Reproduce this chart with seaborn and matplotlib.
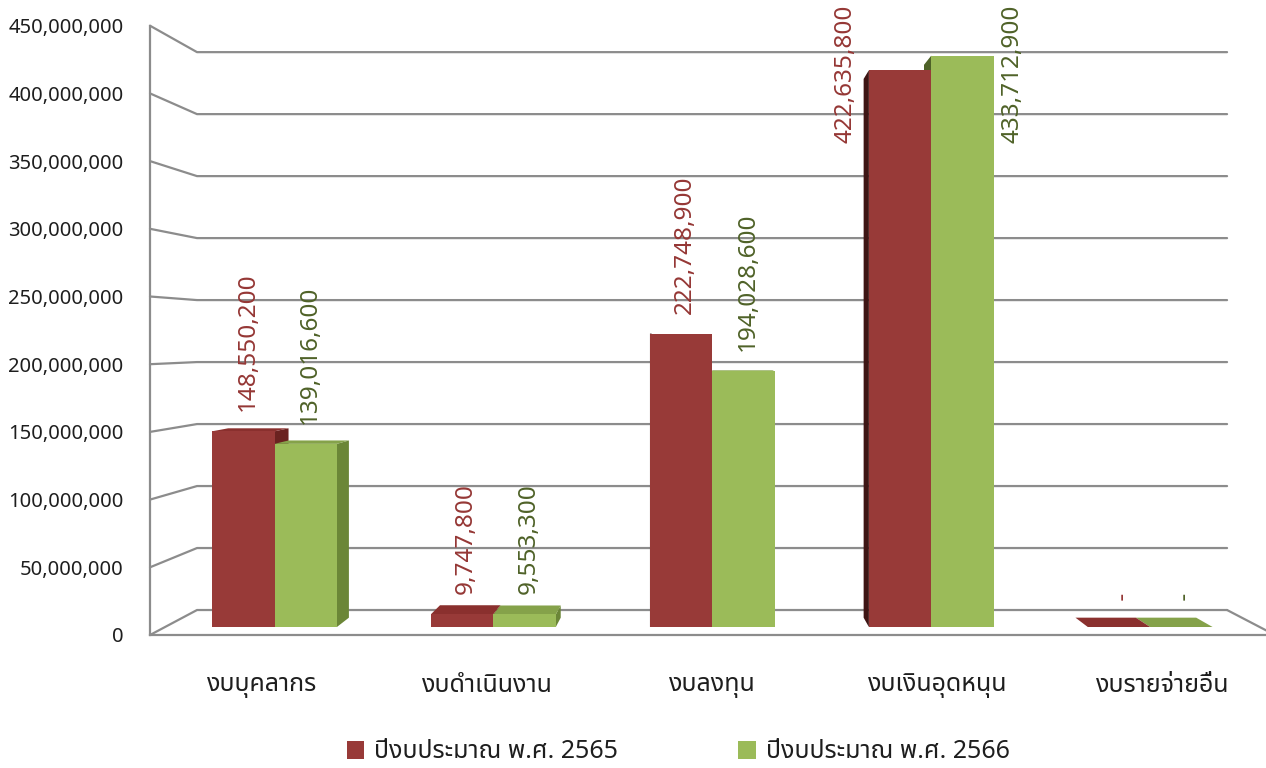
import numpy as np
import pandas as pd
import seaborn as sns
import matplotlib
matplotlib.use("Agg")
import matplotlib.pyplot as plt
from matplotlib import transforms as mtransforms
from matplotlib.patches import Polygon, Patch

# ---- data -------------------------------------------------------------
categories = ["งบบุคลากร", "งบดำเนินงาน", "งบลงทุน", "งบเงินอุดหนุน", "งบรายจ่ายอื่น"]
series_names = ["ปีงบประมาณ พ.ศ. 2565", "ปีงบประมาณ พ.ศ. 2566"]
budget_2565 = [148550200, 9747800, 222748900, 422635800, 0]
budget_2566 = [139016600, 9553300, 194028600, 433712900, 0]
y_ticks = [0, 50000000, 100000000, 150000000, 200000000,
           250000000, 300000000, 350000000, 400000000, 450000000]

# ---- style ------------------------------------------------------------
sns.set_style("white")
plt.rcParams["font.family"] = ["Noto Sans Thai", "DejaVu Sans"]

RED, GREEN = "#983a38", "#9bbb59"
RED_LABEL, GREEN_LABEL = "#953735", "#4f6228"
SIDE = {True: {"right": "#6a2220", "left": "#3e1514", "top": "#8a302e"},
        False: {"right": "#6b8637", "left": "#4e6228", "top": "#85a24a"}}
GRID = "#8c8c8c"
TEXT = "#1e1e1e"

# ---- pseudo-3D frame geometry (pixels, origin top-left) ----------------
W, H, DPI = 1266, 768, 100
FRONT_LEFT, CAT_W = 150, 225
FRONT_ZERO, FRONT_TOP = 635, 25.7
VMAX = y_ticks[-1]
VX, VY = 707, 339          # vanishing point
SHRINK = 0.0844            # scale loss from front plane to back wall
T_FRONT, T_BACK = 0.32, 0.694   # depth of the bar faces


def front_xy(c, v):
    return (FRONT_LEFT + (c + 0.5) * CAT_W,
            FRONT_ZERO - v * (FRONT_ZERO - FRONT_TOP) / VMAX)


def proj(c, v, t):
    x, y = front_xy(c, v)
    s = 1 - SHRINK * t
    return VX + s * (x - VX), VY + s * (y - VY)


def rect(x0, x1, ytop, ybot):
    return [x0 / W, 1 - ybot / H, (x1 - x0) / W, (ybot - ytop) / H]


fig = plt.figure(figsize=(W / DPI, H / DPI), dpi=DPI)
px = mtransforms.Affine2D().scale(1 / W, -1 / H).translate(0, 1) + fig.transFigure

# ---- front axes: value axis, category axis, walls and floor ------------
n = len(categories)
ax_front = fig.add_axes(rect(FRONT_LEFT, FRONT_LEFT + n * CAT_W, FRONT_TOP, FRONT_ZERO))
ax_front.set_zorder(0)
ax_front.patch.set_alpha(0)
ax_front.set_xlim(-0.5, n - 0.5)
ax_front.set_ylim(0, VMAX)
for side in ("top", "right"):
    ax_front.spines[side].set_visible(False)
for side in ("left", "bottom"):
    ax_front.spines[side].set_color(GRID)
    ax_front.spines[side].set_linewidth(1.6)
ax_front.set_yticks(y_ticks)
ax_front.yaxis.set_major_formatter(lambda v, pos: f"{v:,.0f}")
ax_front.tick_params(axis="y", direction="out", length=6, width=1.6, color=GRID,
                     pad=13, labelsize=14.5, labelcolor=TEXT)
ax_front.set_xticks(range(n))
ax_front.set_xticklabels(categories)
ax_front.set_xticks(np.arange(-0.5, n, 1.0), minor=True)
ax_front.tick_params(axis="x", which="major", length=0, pad=27, labelsize=18,
                     labelcolor=TEXT)
ax_front.tick_params(axis="x", which="minor", direction="out", length=7, width=1.6,
                     color=GRID)
ax_front.grid(False)

for v in y_ticks:
    fx, fy = front_xy(-0.5, v)
    bx, by = proj(-0.5, v, 1)
    ex, ey = proj(n - 0.5, v, 1)
    ax_front.plot([fx, bx, ex], [fy, by, ey], transform=px, color=GRID, lw=1.6,
                  clip_on=False, zorder=1)
rx, ry = proj(n - 0.5, 0, 1)
fx, fy = front_xy(n - 0.5, 0)
ax_front.plot([rx, fx], [ry, fy], transform=px, color=GRID, lw=1.6, clip_on=False)

# ---- bars -------------------------------------------------------------
df = pd.DataFrame({
    "category": categories * 2,
    "series": [series_names[0]] * n + [series_names[1]] * n,
    "value": budget_2565 + budget_2566,
})

bl, by0 = proj(-0.5, 0, T_FRONT)
br, _ = proj(n - 0.5, 0, T_FRONT)
_, bt = proj(0, VMAX, T_FRONT)
ax_bar = fig.add_axes(rect(bl, br, bt, by0))
ax_bar.set_zorder(2)
ax_bar.patch.set_alpha(0)
sns.barplot(data=df, x="category", y="value", hue="series", order=categories,
            hue_order=series_names, palette=[RED, GREEN], width=0.57,
            saturation=1, errorbar=None, legend=False, linewidth=0, ax=ax_bar)
ax_bar.set_xlim(-0.5, n - 0.5)
ax_bar.set_ylim(0, VMAX)
ax_bar.set_axis_off()

labels = []
for p in list(ax_bar.patches):
    x0, w, h = p.get_x(), p.get_width(), p.get_height()
    xc = x0 + w / 2
    grp = int(round(xc))
    is_first = xc < grp
    grp_px = proj(grp, 0, T_FRONT)[0]
    left_of_center = grp_px < VX
    # draw the bar farther from the vanishing point first
    rank = 0 if (is_first == left_of_center) else 1
    p.set_zorder(3 + 2 * rank)
    pal = SIDE[is_first]

    xs = x0 + w if left_of_center else x0
    side = [proj(xs, 0, T_FRONT), proj(xs, h, T_FRONT),
            proj(xs, h, T_BACK), proj(xs, 0, T_BACK)]
    ax_bar.add_patch(Polygon(side, closed=True, transform=px, clip_on=False,
                             facecolor=pal["right" if left_of_center else "left"],
                             edgecolor="none", zorder=2 + 2 * rank))
    if proj(xc, h, T_FRONT)[1] > VY:
        top = [proj(x0, h, T_FRONT), proj(x0 + w, h, T_FRONT),
               proj(x0 + w, h, T_BACK), proj(x0, h, T_BACK)]
        ax_bar.add_patch(Polygon(top, closed=True, transform=px, clip_on=False,
                                 facecolor=pal["top"], edgecolor="none",
                                 zorder=2 + 2 * rank))

    dx, dy = ax_bar.transData.transform((xc, h))
    text = f"{h:,.0f}" if h > 0 else " - "
    t = ax_bar.text(dx + 4, dy + 20, text, transform=mtransforms.IdentityTransform(),
                    rotation=90, ha="center", va="bottom", fontsize=17.5,
                    color=RED_LABEL if is_first else GREEN_LABEL, zorder=20,
                    clip_on=False)
    labels.append((t, p, is_first))

# labels that would run off the top go beside their bar
fig.canvas.draw()
renderer = fig.canvas.get_renderer()
for t, p, is_first in labels:
    bb = t.get_window_extent(renderer)
    if bb.y1 > H - 3:
        lx, _ = ax_bar.transData.transform((p.get_x(), 0))
        rx_, _ = ax_bar.transData.transform((p.get_x() + p.get_width(), 0))
        if is_first:
            t.set_position((lx - 11, H - 5))
            t.set_ha("right")
        else:
            t.set_position((rx_ + 7, H - 5))
            t.set_ha("left")
        t.set_va("top")

# ---- legend -----------------------------------------------------------
handles = [Patch(facecolor=RED, edgecolor="none"), Patch(facecolor=GREEN, edgecolor="none")]
fig.legend(handles=handles, labels=series_names, loc="center",
           bbox_to_anchor=(678 / W, 1 - 752 / H), ncol=2, frameon=False,
           fontsize=18, handlelength=0.7, handleheight=0.7, handletextpad=0.4,
           columnspacing=4.8, labelcolor=TEXT)

fig.savefig("out.png", dpi=DPI)
